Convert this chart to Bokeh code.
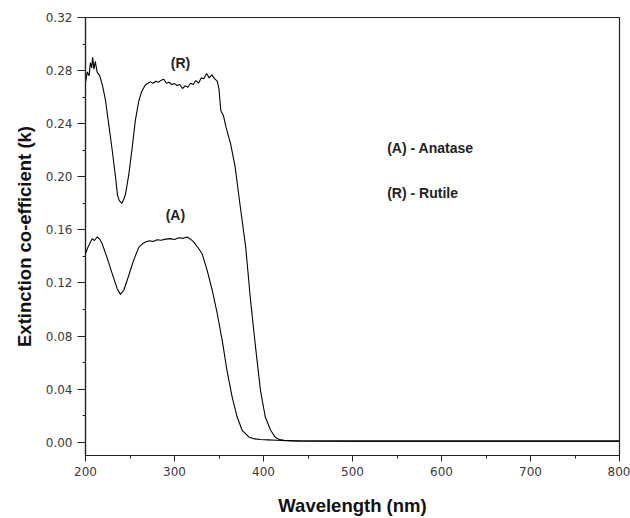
from bokeh.plotting import figure
from bokeh.models import Range1d, FixedTicker, Label
from bokeh.embed import file_html
from bokeh.resources import INLINE

# Rutile (R)
r_wl = [200, 202, 204, 205.5, 207, 208, 209.5, 211, 213, 216, 219, 222.5, 226, 230, 233.7, 236, 238, 241, 243, 245,
        248.7, 252.5, 256, 260, 263, 267, 270, 273, 276, 279, 282, 285, 288, 291, 294, 297, 300, 303, 306, 309,
        312, 315, 318, 321, 324, 327, 330, 333, 336, 339, 342, 345, 348, 350, 352, 355, 358, 363, 368, 374,
        380, 385, 391, 396.6, 402, 408, 413.5, 418, 423, 430, 440, 500, 600, 700, 800]
r_k = [0.271, 0.279, 0.276, 0.286, 0.282, 0.290, 0.281, 0.287, 0.279, 0.276, 0.269, 0.2575, 0.240, 0.220, 0.200,
       0.186, 0.182, 0.180, 0.183, 0.187, 0.202, 0.222, 0.2425, 0.2575, 0.264, 0.269, 0.2705, 0.2715, 0.2705,
       0.272, 0.2712, 0.2728, 0.2735, 0.2705, 0.2712, 0.2695, 0.2702, 0.2688, 0.2695, 0.2665, 0.2685, 0.2675,
       0.2705, 0.2695, 0.2725, 0.2705, 0.2745, 0.2738, 0.2778, 0.2745, 0.2768, 0.2740, 0.2720, 0.266, 0.250,
       0.246, 0.237, 0.225, 0.208, 0.177, 0.147, 0.110, 0.072, 0.039, 0.019, 0.009, 0.0035, 0.002, 0.0015,
       0.0012, 0.001, 0.0008, 0.0008, 0.0008, 0.0008]

# Anatase (A)
a_wl = [200, 202, 205, 207.5, 210, 213, 216, 218.7, 224, 230, 235.6, 239.3, 243, 248.7, 254, 260, 264, 267.4,
        272, 276, 280.5, 285, 290, 295.5, 300, 305, 310, 314, 318, 321.7, 327.3, 331, 336.7, 342.4, 348, 353.6,
        359, 364.8, 370.4, 376, 383.5, 390, 396.6, 405, 415, 425, 435, 500, 600, 700, 800]
a_k = [0.142, 0.1458, 0.150, 0.1534, 0.152, 0.1546, 0.153, 0.1496, 0.1395, 0.127, 0.1157, 0.1114, 0.1145, 0.1258,
       0.137, 0.147, 0.1495, 0.1508, 0.1518, 0.1512, 0.1526, 0.1522, 0.1530, 0.1534, 0.1528, 0.1540, 0.1536,
       0.1546, 0.1530, 0.1508, 0.1458, 0.142, 0.1295, 0.1145, 0.097, 0.0768, 0.054, 0.034, 0.019, 0.009, 0.004,
       0.0025, 0.002, 0.0018, 0.0015, 0.0012, 0.001, 0.0008, 0.0008, 0.0008, 0.0008]

x_ticks = [200, 300, 400, 500, 600, 700, 800]
y_ticks = [0.0, 0.04, 0.08, 0.12, 0.16, 0.20, 0.24, 0.28, 0.32]
y_tick_labels = {0.0: "0.00", 0.04: "0.04", 0.08: "0.08", 0.12: "0.12", 0.16: "0.16",
                 0.2: "0.20", 0.24: "0.24", 0.28: "0.28", 0.32: "0.32"}

p = figure(width=630, height=518, output_backend="svg", toolbar_location=None,
           x_range=Range1d(200, 800), y_range=Range1d(-0.01, 0.32))
p.min_border_left = 85
p.min_border_right = 11
p.min_border_top = 17
p.min_border_bottom = 63
p.background_fill_color = "white"
p.border_fill_color = "white"
p.outline_line_color = "#222222"
p.outline_line_width = 1.2
p.grid.visible = False

p.line(r_wl, r_k, line_color="black", line_width=1.1)
p.line(a_wl, a_k, line_color="black", line_width=1.1)

FONT = "Liberation Sans"
for txt, x, y in [("(R)", 306.7, 0.2854), ("(A)", 301, 0.171)]:
    p.add_layout(Label(x=x, y=y, text=txt, text_font=FONT, text_font_style="bold", text_font_size="14px",
                       text_align="center", text_baseline="middle", text_color="#222222"))
for txt, y in [("(A) - Anatase", 0.2214), ("(R) - Rutile", 0.1875)]:
    p.add_layout(Label(x=539, y=y, text=txt, text_font=FONT, text_font_style="bold", text_font_size="14px",
                       text_align="left", text_baseline="middle", text_color="#222222"))

xa = p.xaxis[0]
xa.ticker = FixedTicker(ticks=x_ticks, minor_ticks=[250, 350, 450, 550, 650, 750])
xa.axis_label = "Wavelength (nm)"
ya = p.yaxis[0]
ya.ticker = FixedTicker(ticks=y_ticks, minor_ticks=[0.02, 0.06, 0.10, 0.14, 0.18, 0.22, 0.26, 0.30])
ya.major_label_overrides = y_tick_labels
ya.axis_label = "Extinction co-efficient (k)"

for ax in (xa, ya):
    ax.axis_line_color = "#222222"
    ax.axis_line_width = 1.2
    ax.major_tick_line_color = "#222222"
    ax.minor_tick_line_color = "#222222"
    ax.major_tick_in = 0
    ax.minor_tick_in = 0
    ax.major_label_text_font = "DejaVu Sans"
    ax.major_label_text_font_size = "12px"
    ax.major_label_text_color = "#3a3a3a"
    ax.axis_label_text_font = FONT
    ax.axis_label_text_font_style = "bold"
    ax.axis_label_text_font_size = "18.5px"
    ax.axis_label_text_color = "#111111"

xa.major_tick_out = 6
xa.minor_tick_out = 3
xa.major_label_standoff = 5
xa.axis_label_standoff = 16
ya.major_tick_out = 8
ya.minor_tick_out = 3
ya.major_label_standoff = 5
ya.axis_label_standoff = 8

open("out.html", "w").write(file_html(p, INLINE))
